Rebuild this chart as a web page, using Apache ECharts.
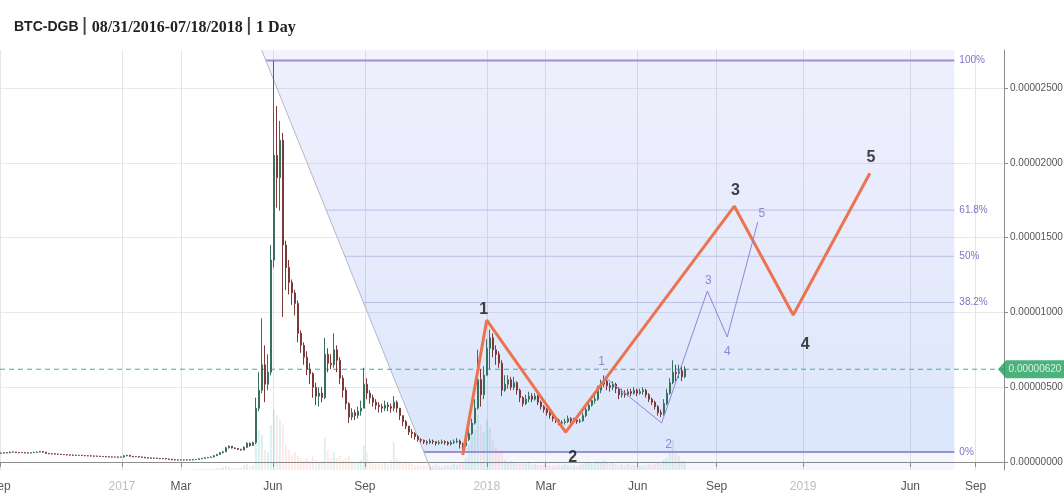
<!DOCTYPE html>
<html><head><meta charset="utf-8">
<script src="https://cdn.jsdelivr.net/npm/echarts@6/dist/echarts.min.js"></script>
<style>html,body{margin:0;padding:0;background:#fff}#c{width:1064px;height:500px}</style>
</head><body><div id="c"></div>
<script>
// ---------- DATA (prices in µBTC = 1e-6 BTC) ----------
const startDate = '2016-08-31';
const lastDate = '2018-07-18';
const firstCandleDate = '2016-09-02';
const candleStepDays = 3;
const futureScale = 0.71;          // future part of the time scale is compressed
const axisStartDate = '2016-09-01';
const axisEndDate = '2019-10-11';
const firstOpen = 0.58;
const closes = [
0.60,0.62,0.61,0.66,0.67,0.63,0.62,0.64,0.61,0.60,
0.62,0.65,0.66,0.70,0.66,0.58,0.56,0.55,0.53,0.52,
0.50,0.49,0.47,0.46,0.45,0.44,0.45,0.43,0.42,0.41,
0.40,0.39,0.38,0.37,0.36,0.35,0.34,0.33,0.34,0.32,
0.33,0.42,0.45,0.38,0.35,0.36,0.33,0.32,0.28,0.27,
0.25,0.26,0.24,0.22,0.23,0.20,0.18,0.15,0.14,0.13,
0.14,0.13,0.15,0.14,0.16,0.17,0.21,0.24,0.28,0.30,
0.33,0.42,0.50,0.62,0.68,0.95,1.05,0.94,0.90,0.84,
0.80,0.98,1.25,1.10,1.30,3.6,4.8,6.5,5.2,6.0,
13.5,20.5,19.0,21.5,14.5,13.0,12.0,11.3,10.6,8.6,
7.8,7.0,6.2,5.9,5.0,4.4,4.6,4.3,7.2,6.6,
6.5,7.5,6.8,5.6,4.8,3.9,3.0,3.3,3.1,3.4,
3.6,5.2,4.6,4.3,4.0,3.8,3.7,3.6,3.8,3.7,
3.6,4.0,3.6,3.1,2.7,2.4,2.0,1.9,1.7,1.5,
1.45,1.35,1.3,1.4,1.35,1.25,1.3,1.35,1.3,1.2,
1.3,1.35,1.4,1.2,1.1,1.5,1.9,2.6,3.6,5.5,
4.5,5.8,7.6,8.3,7.5,7.2,6.6,4.8,5.2,5.5,
5.0,5.3,4.8,4.3,3.9,4.2,4.4,4.2,4.4,4.0,
3.7,3.5,3.3,3.1,2.9,2.8,2.6,2.65,2.7,2.9,
2.75,2.8,2.7,2.75,3.1,3.5,3.8,4.1,4.2,4.8,
5.2,5.4,5.1,5.0,5.2,4.9,4.5,4.6,4.5,4.7,
4.6,4.8,4.6,4.7,4.8,4.5,4.2,4.0,3.7,3.3,
3.2,3.9,4.6,5.3,6.0,5.9,6.1,5.7,6.2];
const highs = [
0.63,0.65,0.64,0.69,0.70,0.68,0.66,0.67,0.65,0.63,
0.64,0.68,0.70,0.74,0.72,0.66,0.60,0.58,0.57,0.55,
0.54,0.53,0.51,0.50,0.49,0.48,0.48,0.47,0.46,0.45,
0.44,0.43,0.42,0.41,0.40,0.39,0.38,0.37,0.37,0.36,
0.37,0.45,0.48,0.46,0.40,0.39,0.37,0.36,0.33,0.31,
0.29,0.30,0.28,0.26,0.27,0.24,0.22,0.19,0.18,0.17,
0.17,0.16,0.18,0.18,0.19,0.20,0.24,0.28,0.31,0.34,
0.37,0.46,0.55,0.66,0.74,1.02,1.12,1.06,0.98,0.93,
0.88,1.05,1.32,1.30,1.36,4.3,6.0,9.6,7.8,7.2,
14.5,26.83,23.8,22.8,22.0,14.8,13.5,12.2,11.5,10.8,
8.8,8.0,7.4,6.6,6.0,5.3,5.0,5.0,8.3,7.6,
7.2,8.6,7.8,7.0,5.8,5.0,4.0,3.6,3.5,3.7,
4.1,6.3,5.6,4.8,4.5,4.2,4.0,3.9,4.1,4.0,
3.9,4.4,4.1,3.6,3.1,2.8,2.4,2.2,2.0,1.8,
1.6,1.5,1.45,1.55,1.5,1.4,1.45,1.5,1.45,1.4,
1.45,1.5,1.6,1.5,1.3,1.7,2.2,2.9,4.2,7.5,
6.2,6.4,8.2,8.85,8.6,7.8,7.4,6.8,5.8,5.8,
5.7,5.7,5.4,4.9,4.4,4.5,4.7,4.6,4.6,4.5,
4.1,3.8,3.6,3.4,3.2,3.0,2.9,2.8,2.9,3.1,
3.0,2.95,2.9,2.9,3.3,3.7,4.1,4.4,4.5,5.1,
5.5,5.8,5.5,5.3,5.4,5.3,5.0,4.9,4.8,4.9,
4.9,5.0,4.9,4.9,5.0,4.9,4.6,4.3,4.1,3.8,
3.5,4.2,4.9,5.6,6.8,6.5,6.5,6.4,6.4];
const lows = [
0.57,0.58,0.58,0.60,0.63,0.60,0.59,0.60,0.58,0.57,
0.58,0.60,0.62,0.64,0.62,0.55,0.52,0.51,0.50,0.48,
0.47,0.46,0.44,0.43,0.42,0.41,0.41,0.40,0.39,0.38,
0.37,0.36,0.35,0.34,0.33,0.32,0.31,0.30,0.30,0.29,
0.30,0.31,0.38,0.35,0.32,0.32,0.30,0.28,0.25,0.24,
0.22,0.22,0.21,0.19,0.19,0.17,0.15,0.12,0.11,0.10,
0.10,0.10,0.11,0.11,0.12,0.13,0.16,0.20,0.23,0.26,
0.28,0.32,0.41,0.48,0.58,0.66,0.90,0.90,0.86,0.80,
0.76,0.78,0.95,1.02,1.08,1.2,3.4,4.6,4.0,4.8,
5.8,13.0,17.0,16.8,9.7,11.5,11.2,10.5,9.8,8.0,
7.3,6.5,5.8,5.2,4.3,3.8,3.7,4.0,4.2,6.0,
6.2,6.3,6.0,5.2,4.3,3.5,2.6,2.8,2.8,2.9,
3.1,3.6,4.2,3.9,3.7,3.5,3.3,3.3,3.4,3.4,
3.3,3.4,3.3,2.8,2.4,2.2,1.8,1.6,1.5,1.35,
1.3,1.2,1.15,1.2,1.2,1.1,1.15,1.2,1.15,1.1,
1.1,1.2,1.25,0.9,0.85,1.0,1.4,1.8,2.5,3.5,
3.7,4.2,5.8,6.2,7.0,6.5,6.3,4.4,4.7,4.9,
4.8,4.8,4.5,4.0,3.7,3.8,4.0,4.0,4.1,3.8,
3.5,3.3,3.1,2.9,2.7,2.6,2.45,2.45,2.5,2.6,
2.6,2.6,2.55,2.6,2.7,3.0,3.4,3.7,3.9,4.1,
4.6,5.0,4.8,4.7,4.8,4.6,4.2,4.3,4.3,4.4,
4.4,4.5,4.4,4.5,4.5,4.3,4.0,3.8,3.5,3.1,
3.0,3.1,3.8,4.5,5.2,5.4,5.6,5.4,5.6];
const volumes = [
0.5,0.5,0.5,0.5,0.5,0.5,0.5,0.5,0.5,0.5,
0.5,0.5,0.5,0.5,0.5,0.5,0.5,0.5,0.5,0.5,
0.5,0.5,0.5,0.5,0.5,0.5,0.5,0.5,0.5,0.5,
0.5,0.5,0.5,0.5,0.5,0.5,0.5,0.5,0.5,0.5,
0.5,0.5,0.5,0.5,0.5,0.5,0.5,0.5,0.5,0.5,
0.5,0.5,0.5,0.5,0.5,0.5,0.5,0.5,0.5,0.5,
0.5,0.5,0.5,0.5,0.5,0.5,1,1,1,1,
1,1,2,2,3,4,3,2,2,2,
3,5,6,4,5,30,40,35,20,18,
45,60,55,50,45,25,20,15,18,14,
12,10,12,9,14,10,8,9,32,20,
12,18,12,14,10,12,14,9,7,8,
10,25,18,10,8,6,7,6,8,6,
10,28,12,10,8,9,7,6,5,5,
4,5,4,3,4,5,4,3,4,5,
4,6,5,6,8,12,25,35,40,55,
45,38,50,42,30,22,18,20,10,8,
9,7,8,6,7,6,7,5,6,5,
5,5,4,5,4,4,5,4,6,5,
4,5,4,5,6,7,8,6,7,9,
8,10,7,6,7,6,5,6,5,6,
5,5,4,5,4,5,6,5,6,7,
6,10,12,18,30,20,14,10,9];
const xTickDates = ['2016-09-01','2017-01-01','2017-03-01','2017-06-01','2017-09-01','2018-01-01','2018-03-01','2018-06-01','2018-09-01','2019-01-01','2019-06-01','2019-09-01'];
const xTickLabels = ['Sep','2017','Mar','Jun','Sep','2018','Mar','Jun','Sep','2019','Jun','Sep'];
const yTickValues = [0,5,10,15,20,25];
const yRange = [-0.535, 27.54];
const lastPrice = 6.2;
const fibLevels = [1, 0.618, 0.5, 0.382, 0];
const fibLabels = ['100%','61.8%','50%','38.2%','0%'];
const fibHigh = 26.83, fibLow = 0.67;
const fibAnchorDates = ['2017-05-25','2017-10-30'];
const fibEndDate = '2019-08-02';
const waveDates = ['2017-12-08','2018-01-01','2018-03-21','2018-09-26','2018-12-18','2019-04-05'];
const waveValues = [0.47, 9.49, 2.0, 17.1, 9.83, 19.3];
const waveLabels = ['', '1', '2', '3', '4', '5'];
const subWaveDates = ['2018-04-29','2018-06-25','2018-08-19','2018-09-16','2018-10-29'];
const subWaveValues = [5.68, 2.61, 11.43, 8.36, 16.04];
const subWaveLabels = ['1', '2', '3', '4', '5'];

// ---------- STYLE ----------
const waveLabelOffsets = [[0,0],[-3,-10],[7,26],[1,-16],[12,30],[1,-16]];
const subWaveLabelOffsets = [[-3,-15],[7,22],[1,-10],[0,15],[4,-8]];

// ---------- helpers ----------
const DAY = 86400000;
const t0 = Date.parse(startDate + 'T00:00:00Z');
const lastIdx = (Date.parse(lastDate + 'T00:00:00Z') - t0) / DAY;
function dayNum(s) { return (Date.parse(s + 'T00:00:00Z') - t0) / DAY; }
function toIdx(s) { const d = dayNum(s); return d <= lastIdx ? d : lastIdx + (d - lastIdx) * futureScale; }
function addDays(s, n) { return new Date(Date.parse(s + 'T00:00:00Z') + n * DAY).toISOString().slice(0, 10); }

const candleDates = closes.map((_, i) => addDays(firstCandleDate, i * candleStepDays));
const candleData = closes.map((c, i) => {
  const o = i === 0 ? firstOpen : closes[i - 1];
  return [toIdx(candleDates[i]), o, c, lows[i], highs[i]];
});
const volData = volumes.map((v, i) => ({
  value: [toIdx(candleDates[i]), v],
  itemStyle: { color: candleData[i][2] >= candleData[i][1] ? 'rgba(38,166,154,0.16)' : 'rgba(239,83,80,0.13)' }
}));
const xTickIdx = xTickDates.map(toIdx);
const fibA = [toIdx(fibAnchorDates[0]), fibHigh];
const fibB = [toIdx(fibAnchorDates[1]), fibLow];
function diagIdxAt(v) { return fibA[0] + (v - fibA[1]) * (fibB[0] - fibA[0]) / (fibB[1] - fibA[1]); }
const fibEndIdx = toIdx(fibEndDate);
const xMin = toIdx(axisStartDate), xMax = toIdx(axisEndDate);

const chart = echarts.init(document.getElementById('c'), null, { renderer: 'canvas' });
const fontSans = '"Liberation Sans", Arial, sans-serif';

chart.setOption({
  animation: false,
  backgroundColor: '#fff',
  title: {
    left: 9, top: 13,
    text: '{a|BTC-DGB}{s||}{b|08/31/2016-07/18/2018}{s||}{b|1 Day}',
    textStyle: {
      rich: {
        a: { fontFamily: fontSans, fontWeight: 'bold', fontSize: 14, color: '#222' },
        s: { fontFamily: '"DejaVu Sans"', fontSize: 17, color: '#444', padding: [0, 4, 2, 3] },
        b: { fontFamily: '"Liberation Serif", serif', fontSize: 16, color: '#222' }
      }
    }
  },
  grid: { left: 0, right: 60, top: 50, bottom: 30, containLabel: false, outerBoundsMode: 'none' },
  xAxis: {
    type: 'value', min: xMin, max: xMax,
    axisLine: { show: true, lineStyle: { color: '#8c8c8c' } },
    axisTick: { show: true, customValues: xTickIdx, length: 5, lineStyle: { color: '#8c8c8c' } },
    axisLabel: {
      customValues: xTickIdx, margin: 11, fontSize: 12, color: '#555', fontFamily: fontSans,
      formatter: v => {
        let k = 0, best = Infinity;
        xTickIdx.forEach((t, j) => { if (Math.abs(t - v) < best) { best = Math.abs(t - v); k = j; } });
        const lab = xTickLabels[k];
        return /^\d{4}$/.test(lab) ? '{y|' + lab + '}' : lab;
      },
      rich: { y: { color: '#bdbdbd', fontSize: 12, fontFamily: fontSans } }
    },
    splitLine: { show: true, lineStyle: { color: '#e4e4e4' } }
  },
  yAxis: [{
    type: 'value', position: 'right', min: yRange[0], max: yRange[1],
    axisLine: { show: true, lineStyle: { color: '#8c8c8c' } },
    axisTick: { show: true, customValues: yTickValues, length: 4, lineStyle: { color: '#8c8c8c' } },
    axisLabel: { customValues: yTickValues, margin: 6, fontSize: 10, color: '#555', fontFamily: fontSans,
      formatter: v => (v * 1e-6).toFixed(8) },
    splitLine: { show: true, lineStyle: { color: '#e8e8e8' } }
  }, {
    type: 'value', min: 0, max: 420, show: false
  }],
  series: [
    { // fib background
      type: 'custom', z: 1, silent: true, clip: true,
      data: [[fibEndIdx, fibLow]], encode: { x: 0, y: 1 },
      renderItem: (params, api) => {
        const poly = (v1, v2) => [api.coord([diagIdxAt(v1), v1]), api.coord([fibEndIdx, v1]), api.coord([fibEndIdx, v2]), api.coord([diagIdxAt(v2), v2])];
        return { type: 'group', children: [
          { type: 'polygon', shape: { points: poly(yRange[1], fibHigh) }, style: { fill: 'rgba(90,100,230,0.08)' } },
          { type: 'polygon', shape: { points: poly(fibHigh, fibLow) }, style: { fill: new echarts.graphic.LinearGradient(0, 0, 0, 1, [
            { offset: 0, color: 'rgba(95,100,230,0.10)' }, { offset: 1, color: 'rgba(40,110,235,0.17)' }]) } },
          { type: 'polygon', shape: { points: poly(fibLow, yRange[0]) }, style: { fill: 'rgba(70,110,235,0.06)' } }
        ] };
      }
    },
    { // volume
      type: 'bar', yAxisIndex: 1, data: volData, barWidth: 2, z: 2, silent: true
    },
    { // diagonal trend line
      type: 'line', z: 3, silent: true, symbol: 'none',
      data: [[diagIdxAt(yRange[1]), yRange[1]], [diagIdxAt(yRange[0]), yRange[0]]],
      lineStyle: { color: '#b7b7c2', width: 1 }
    },
    { // fib levels
      type: 'custom', z: 3, silent: true,
      data: [[fibEndIdx, fibLow]], encode: { x: 0, y: 1 },
      renderItem: (params, api) => {
        const children = [];
        fibLevels.forEach((p, k) => {
          const v = fibLow + p * (fibHigh - fibLow);
          const a = api.coord([diagIdxAt(v), v]);
          const b = api.coord([fibEndIdx, v]);
          const major = (p === 0 || p === 1);
          children.push({ type: 'line', shape: { x1: a[0], y1: a[1], x2: b[0], y2: b[1] },
            style: { stroke: major ? '#9d90d2' : '#bcc0e2', lineWidth: major ? 2 : 1 } });
          children.push({ type: 'text', x: b[0] + 5, y: b[1],
            style: { text: fibLabels[k], fill: '#7f72c2', font: '10px "Liberation Sans"', align: 'left', verticalAlign: 'middle' } });
        });
        return { type: 'group', children };
      }
    },
    { // last price dashed line
      type: 'line', z: 3, silent: true, symbol: 'none',
      data: [[xMin, lastPrice], [xMax, lastPrice]],
      lineStyle: { color: '#45b0a0', type: [5, 4], width: 1 }
    },
    { // candles
      type: 'candlestick', z: 4, data: candleData, encode: { x: 0, y: [1, 2, 3, 4] }, barWidth: 1.6,
      itemStyle: { color: '#2f9a76', color0: '#a33e3e', borderColor: '#37705f', borderColor0: '#7d3838', borderWidth: 1 }
    },
    { // main wave
      type: 'line', z: 6, silent: true, symbol: 'none',
      data: waveDates.map((d, i) => [toIdx(d), waveValues[i]]),
      lineStyle: { color: '#ec7350', width: 3 }
    },
    { // sub wave
      type: 'line', z: 6, silent: true, symbol: 'none',
      data: subWaveDates.map((d, i) => [toIdx(d), subWaveValues[i]]),
      lineStyle: { color: '#8f86d8', width: 1 }
    },
    { // wave labels
      type: 'scatter', z: 7, silent: true, symbolSize: 1, itemStyle: { color: 'rgba(0,0,0,0)' },
      data: waveDates.map((d, i) => ({ value: [toIdx(d), waveValues[i]],
        label: { show: waveLabels[i] !== '', formatter: waveLabels[i], offset: waveLabelOffsets[i] } })),
      label: { position: 'inside', color: '#111', fontSize: 16, fontWeight: 'bold', fontFamily: fontSans }
    },
    { // sub wave labels
      type: 'scatter', z: 7, silent: true, symbolSize: 1, itemStyle: { color: 'rgba(0,0,0,0)' },
      data: subWaveDates.map((d, i) => ({ value: [toIdx(d), subWaveValues[i]],
        label: { show: true, formatter: subWaveLabels[i], offset: subWaveLabelOffsets[i] } })),
      label: { position: 'inside', color: '#7a6fc6', fontSize: 12, fontFamily: fontSans }
    },
    { // last price tag
      type: 'scatter', z: 9, silent: true, clip: false,
      symbol: 'path://M0,9L8,0L66,0L66,18L8,18Z', symbolSize: [66, 18], symbolOffset: [27, 0], symbolKeepAspect: false,
      itemStyle: { color: '#1f9f5a' },
      data: [[xMax, lastPrice]],
      label: { show: true, position: 'inside', offset: [4, 0], color: '#fff', fontSize: 10, fontFamily: fontSans,
        formatter: () => (lastPrice * 1e-6).toFixed(8) }
    }
  ]
});
</script>
</body></html>
